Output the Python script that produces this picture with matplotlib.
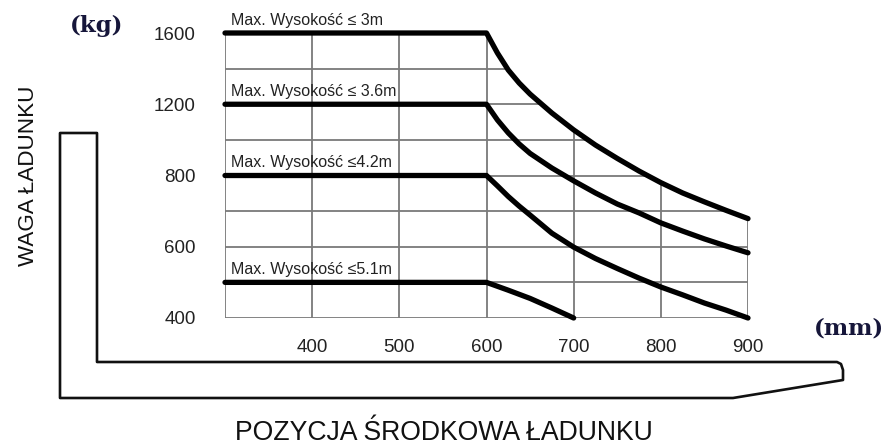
import numpy as np
import matplotlib
matplotlib.use("Agg")
from matplotlib import pyplot as plt
from matplotlib.patches import Polygon

# load chart data (mm -> kg)
levels = [400, 500, 600, 700, 800, 1000, 1200, 1400, 1600]   # grid rows (equally spaced)
ytick_vals = [400, 600, 800, 1200, 1600]
xtick_vals = [400, 500, 600, 700, 800, 900]
xgrid_vals = [300, 400, 500, 600, 700, 800, 900]

curve_x = [300, 600, 612.5, 625, 637.5, 650, 675, 700, 725, 750, 775, 800, 825, 850, 875, 900]
h3_y = [1600, 1600, 1488, 1392, 1319, 1257, 1151, 1056, 971, 896, 825, 780, 751, 726, 702, 679]
h36_y = [1200, 1200, 1112, 1039, 977, 924, 842, 785, 751, 720, 695, 667, 644, 622, 602, 583]
h42_y = [800, 800, 771, 741, 714, 689, 638, 599, 567, 539, 512, 487, 465, 442, 422, 400]
h51_x = [300, 600, 625, 650, 675, 700]
h51_y = [500, 500, 478, 455, 428, 400]

labels = ["Max. Wysokość ≤ 3m", "Max. Wysokość ≤ 3.6m",
          "Max. Wysokość ≤4.2m", "Max. Wysokość ≤5.1m"]

sans = ['Liberation Sans', 'DejaVu Sans']

W, H = 888, 446
fig = plt.figure(figsize=(W / 100, H / 100), dpi=100)

# fork outline drawn in pixel space
bg = fig.add_axes([0, 0, 1, 1])
bg.set_xlim(0, W)
bg.set_ylim(H, 0)
bg.axis('off')
fork = [(60, 133), (97, 133), (97, 362), (837, 362), (841, 364), (843, 370),
        (843, 380), (733, 398), (60, 398)]
bg.add_patch(Polygon(fork, closed=True, fill=False, ec='#111111', lw=1.9,
                     joinstyle='round'))

bg.text(97, 26, "(kg)", family='DejaVu Serif', weight='bold', fontsize=16.5,
        color='#16163a', ha='center', va='center')
bg.text(849, 329, "(mm)", family='DejaVu Serif', weight='bold', fontsize=16.5,
        color='#16163a', ha='center', va='center')
bg.text(28, 176, "WAGA ŁADUNKU", family=sans, fontsize=16.2, rotation=90,
        ha='center', va='center', color='#111111')
bg.text(444, 440, "POZYCJA ŚRODKOWA ŁADUNKU", family=sans, fontsize=19.2,
        ha='center', va='baseline', color='#111111')

# main chart
ax = fig.add_axes([225 / W, 1 - 318 / H, (748 - 225) / W, (318 - 33) / H])
idx = np.arange(len(levels), dtype=float)
ax.set_yscale('function', functions=(lambda v: np.interp(v, levels, idx),
                                     lambda v: np.interp(v, idx, levels)))
ax.set_xlim(300, 900)
ax.set_ylim(400, 1600)
ax.patch.set_alpha(0)
for s in ax.spines.values():
    s.set_visible(False)

clip = Polygon(list(zip(curve_x, h3_y)) + [(900, 400), (300, 400)],
               closed=True, transform=ax.transData, fill=False, lw=0)
ax.add_patch(clip)
for lv in levels:
    ln = ax.axhline(lv, color='#7a7a7a', lw=1.3, zorder=1)
    ln.set_clip_path(clip)
for xv in xgrid_vals:
    ln = ax.axvline(xv, color='#7a7a7a', lw=1.3, zorder=1)
    ln.set_clip_path(clip)

series = [(curve_x, h3_y), (curve_x, h36_y), (curve_x, h42_y), (h51_x, h51_y)]
for (xs, ys), lab in zip(series, labels):
    ax.plot(xs, ys, color='black', lw=3.8, solid_capstyle='round',
            solid_joinstyle='round', clip_on=False, zorder=3)
    ax.annotate(lab, xy=(307, ys[0]), xytext=(0, 6), textcoords='offset points',
                family=sans, fontsize=11.5, va='baseline', ha='left', color='#222222')

ax.set_yticks(ytick_vals)
ax.set_yticklabels([str(v) for v in ytick_vals])
ax.set_xticks(xtick_vals)
ax.set_xticklabels([str(v) for v in xtick_vals])
ax.minorticks_off()
ax.tick_params(axis='y', length=0, pad=21, labelsize=13.5, labelcolor='#222222')
ax.tick_params(axis='x', length=0, pad=15, labelsize=13.5, labelcolor='#222222')
for t in ax.get_xticklabels() + ax.get_yticklabels():
    t.set_family(sans)

fig.savefig("out.png", dpi=100)
